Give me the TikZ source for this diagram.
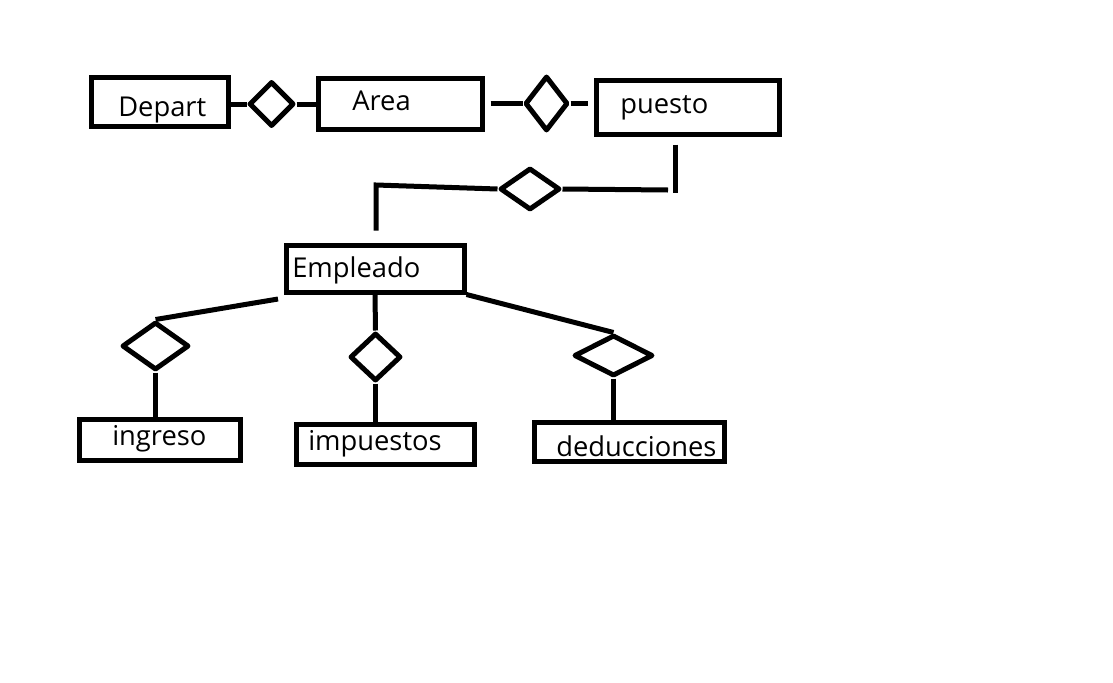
\documentclass[tikz,border=0pt]{standalone}
\usepackage{fontspec}
\setmainfont{Open Sans}
\usetikzlibrary{shapes.geometric}
\begin{document}
\begin{tikzpicture}[x=0.75pt,y=-0.75pt,
  ent/.style={draw,line width=3.75pt,rectangle,inner sep=0pt},
  rel/.style={draw,line width=3.75pt,diamond,inner sep=0pt,line join=round},
  lbl/.style={anchor=base west,inner sep=0pt,font=\fontsize{20.5pt}{24pt}\selectfont},
  con/.style={line width=3.75pt}]
\useasboundingbox[fill=white] (0,0) rectangle (1113,682);
% entities
\node[ent,minimum width=137*0.75pt,minimum height=49*0.75pt] (dep) at (159.5,101.5) {};
\node[ent,minimum width=164*0.75pt,minimum height=51*0.75pt] (area) at (400,103.5) {};
\node[ent,minimum width=183*0.75pt,minimum height=54*0.75pt] (pue) at (687.5,107) {};
\node[ent,minimum width=178*0.75pt,minimum height=47*0.75pt] (emp) at (375,268.5) {};
\node[ent,minimum width=161*0.75pt,minimum height=41*0.75pt] (ing) at (159.5,439.5) {};
\node[ent,minimum width=178*0.75pt,minimum height=40*0.75pt] (imp) at (385,444) {};
\node[ent,minimum width=190*0.75pt,minimum height=39*0.75pt] (ded) at (629,441.5) {};
% labels
\node[lbl] (tdep) at (118,116) {Depart};
\node[lbl] (tarea) at (352,110) {Area};
\node[lbl] (tpue) at (620,113) {puesto};
\node[lbl] (temp) at (292,277) {Empleado};
\node[lbl] (ting) at (112,445) {ingreso};
\node[lbl] (timp) at (308,450) {impuestos};
\node[lbl] (tded) at (556,456) {deducciones};
% relationships
\node[rel,minimum width=45*0.75pt,minimum height=45*0.75pt] (d1) at (271.5,104) {};
\node[rel,minimum width=43*0.75pt,minimum height=55*0.75pt] (d2) at (546.5,103.5) {};
\node[rel,minimum width=60*0.75pt,minimum height=42*0.75pt] (d3) at (530,189) {};
\node[rel,minimum width=67*0.75pt,minimum height=48*0.75pt] (d4) at (155.5,346) {};
\node[rel,minimum width=51*0.75pt,minimum height=48*0.75pt] (d5) at (375.5,357) {};
\node[rel,minimum width=79*0.75pt,minimum height=41*0.75pt] (d6) at (613.5,355.5) {};
% connectors
\draw[con] (d1.west -| dep.east) -- (d1.west);
\draw[con] (d1.east) -- (d1.east -| area.west);
\draw[con,shorten <=6*0.75pt] (d2.west -| area.east) -- (d2.west);
\draw[con,shorten >=6*0.75pt] (d2.east) -- (d2.east -| pue.west);
\coordinate (pj) at (675,193);
\coordinate (hj) at (668,190);
\draw[con,shorten <=8*0.75pt] (pue.south -| pj) -- (pj);
\draw[con] (d3.east) -- (hj);
\coordinate (ej) at (376,185);
\draw[con,shorten >=12*0.75pt] (d3.west) -- (ej) -- (ej |- emp.north);
\coordinate (e4) at (278,299);
\draw[con] (e4) -- (d4.north);
\draw[con] (d4.south) -- (d4.south |- ing.north);
\draw[con] (emp.south) -- (d5.north);
\draw[con] (d5.south) -- (d5.south |- imp.north);
\draw[con] (emp.south east) -- (d6.north);
\draw[con] (d6.south) -- (d6.south |- ded.north);
\end{tikzpicture}
\end{document}
